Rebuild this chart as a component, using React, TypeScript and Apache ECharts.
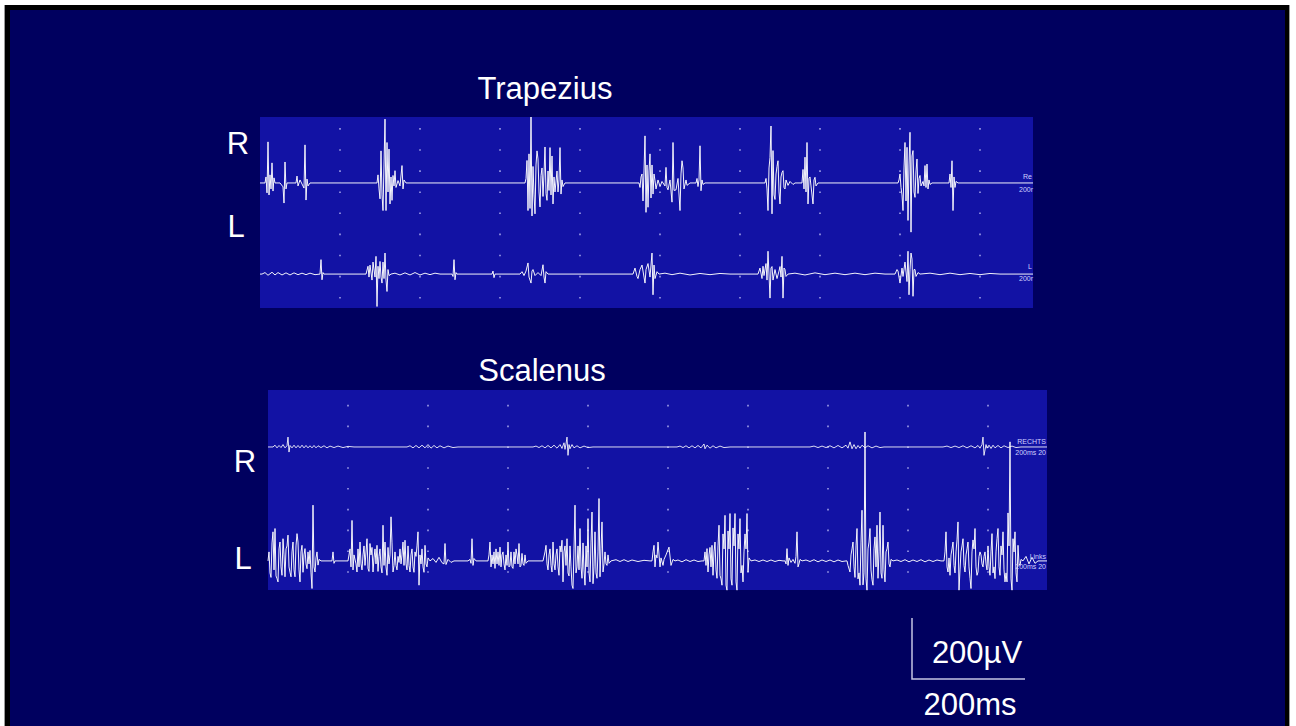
import React, { useEffect, useRef } from "react";
import * as echarts from "echarts";

// Time axis in samples (1 sample ≈ 1.77 ms), amplitude in µV (200 µV bar)
const TRAP_SAMPLES = 773;
const SCAL_SAMPLES = 779;

const TITLES = ["Trapezius", "Scalenus"];
const SIDES = ["R", "L"];
const SCALE_V = "200µV";
const SCALE_T = "200ms";

// Trapezius, right side
const TRAP_R: [number, number][] = [
  [5, 0], [6, 20], [7, -33], [8, 137], [9, -40], [10, 27], [11, -20], [12, 67], [13, -27], [14, 17], [15, 0],
  [20, 0], [23, -13], [24, -67], [25, 70], [26, -20], [27, 0], [36, 0], [37, 23], [38, -10], [40, 10], [44, -17],
  [45, 127], [46, -57], [47, 13], [48, -10], [50, 0],
  [117, 0], [118, 27], [119, -20], [120, -53], [121, 107], [122, -40], [123, -92], [124, 60], [125, 213], [126, -92],
  [127, 135], [128, -30], [129, 113], [130, -70], [131, 20], [132, -58], [133, 25], [134, -10], [135, 41], [136, -15],
  [138, 8], [140, -10], [142, 58], [143, -20], [144, 10], [146, 0],
  [265, 0], [266, 15], [267, 75], [268, -92], [269, 97], [270, -85], [271, 220], [272, -110], [273, 55], [274, -40],
  [275, -103], [276, 60], [277, 107], [278, 80], [279, -30], [280, -80], [281, 25], [282, 50], [283, -45], [284, 30],
  [285, 120], [286, -35], [287, -58], [288, 40], [289, -25], [290, 118], [291, -40], [292, 90], [293, -70], [294, 20],
  [295, -30], [297, 40], [298, -30], [299, 10], [300, 118], [301, -37], [302, 10], [303, -12], [305, 0],
  [379, 0], [380, -15], [381, 20], [382, 30], [383, -60], [384, 40], [385, 157], [386, -98], [387, 60], [388, -81],
  [389, 40], [390, 97], [391, -50], [392, 60], [393, -37], [394, 30], [395, 8], [396, -20], [398, 10], [400, -12],
  [402, 5], [405, -10], [406, 52], [407, -15], [408, -23], [410, 10], [412, -64], [413, 135], [414, -25], [416, -23],
  [418, 15], [420, -92], [421, 30], [422, 74], [423, 50], [424, -20], [426, 10], [427, -8], [430, 0],
  [436, 0], [437, 15], [438, -12], [439, 10], [440, 124], [441, -26], [442, 10], [443, -5], [445, 0],
  [505, 0], [506, 15], [507, -20], [508, -92], [509, 50], [510, 85], [511, 190], [512, -103], [513, 108], [514, -40],
  [515, -55], [516, 30], [517, 55], [518, 74], [519, -30], [520, -70], [521, 20], [522, 35], [523, 41], [524, -15],
  [525, -20], [526, 10], [528, -8], [530, 5], [533, -5], [535, 0],
  [542, 0], [543, 45], [544, -20], [545, 86], [546, -30], [547, 135], [548, -70], [549, 15], [550, 20], [551, -10],
  [553, -70], [554, 10], [555, 19], [556, -10], [558, 0],
  [638, 0], [639, 10], [640, 30], [641, -15], [642, -40], [643, -92], [644, 50], [645, 135], [646, -60], [647, 119],
  [648, -125], [649, 60], [650, 169], [651, -164], [652, 90], [653, 108], [654, -30], [655, -48], [656, 40], [657, 80],
  [658, -35], [659, 15], [660, 25], [661, -10], [663, 5], [664, -10], [665, 58], [666, -15], [667, 63], [668, -20],
  [669, 10], [670, -5], [672, 0],
  [689, 0], [690, 30], [691, -15], [692, 74], [693, -92], [694, 20], [695, -15], [696, 5], [698, 0],
];

// Trapezius, left side
const TRAP_L: [number, number][] = [
  [2, 0], [5, 5], [8, -4], [12, 6], [15, -3], [18, 5], [22, -3], [26, 4], [30, -3], [34, 4], [38, -2], [42, 3],
  [46, -2], [50, 3], [55, -2], [60, 0], [61, 48], [62, -19], [63, 5], [64, 0],
  [106, 0], [108, 26], [109, -10], [110, 30], [112, -20], [113, 40], [115, -10], [116, 59], [117, -108], [118, 26],
  [119, -15], [120, 42], [121, -10], [122, -30], [123, 40], [124, -15], [125, 70], [126, -20], [127, -58], [128, 15],
  [129, -5], [131, 0],
  [135, 3], [140, -3], [145, 4], [150, -3], [155, 5], [160, -3], [165, 3], [170, -2], [175, 3], [180, 0],
  [192, 0], [193, -8], [194, 48], [195, -19], [196, 5], [197, 0],
  [232, 0], [233, 10], [234, -12], [235, 0],
  [260, 0], [262, 8], [264, -5], [266, 10], [268, 37], [269, -10], [271, -30], [272, 10], [273, 15], [275, -5],
  [278, 5], [281, -5], [283, 31], [284, -10], [285, -30], [286, 8], [288, 0],
  [373, 0], [375, 20], [377, -8], [378, -15], [380, 15], [382, 30], [384, -10], [385, -30], [386, 15], [388, 35],
  [390, -10], [392, 70], [393, -69], [394, 30], [395, -15], [397, 8], [399, 0],
  [405, 3], [412, -2], [420, 3], [430, -3], [440, 2], [450, -2], [460, 2], [470, 0],
  [498, 0], [500, 20], [502, -15], [503, 26], [504, -5], [506, 35], [507, -20], [508, 76], [510, -80], [511, 20],
  [512, 25], [513, -20], [515, 15], [517, -15], [519, 10], [520, 25], [521, -10], [522, 59], [523, -80], [524, 20],
  [525, 15], [526, -8], [528, 0],
  [535, 3], [545, -3], [555, 4], [565, -2], [575, 3], [585, -2], [595, 3], [605, -2], [615, 3], [625, 0],
  [635, 0], [637, 15], [638, 10], [640, -30], [642, 20], [643, -8], [645, 40], [647, -25], [648, 76], [649, -69],
  [650, 15], [651, 70], [652, 50], [653, -74], [654, 15], [655, 15], [656, -8], [658, 5], [660, 0],
  [670, 3], [680, -2], [690, 3], [700, -2], [710, 2], [720, -2], [730, 2], [740, 0],
];

// Scalenus, right side
const SCAL_R: [number, number][] = [
  [5, 0], [7, 6], [9, -3], [11, 5], [13, -2], [15, 8], [17, -3], [19, 4], [20, 33], [21, -17], [22, 5], [24, -3],
  [26, 6], [28, -3], [30, 5], [32, -3], [34, 6], [36, -3], [38, 5], [40, -3], [42, 4], [44, -3], [46, 5], [48, -3],
  [50, 4], [53, -2], [56, 4], [59, -3], [62, 3], [66, -2], [70, 3], [75, -2], [80, 2], [86, 0],
  [139, 0], [142, 4], [145, -3], [148, 5], [151, -3], [154, 6], [157, -3], [160, 8], [163, -4], [166, 5],
  [169, -3], [172, 4], [176, -3], [180, 3], [185, -2], [190, 0],
  [265, 0], [268, 3], [271, -2], [274, 4], [277, -3], [280, 5], [283, -3], [286, 6], [289, -4], [292, 8],
  [294, -5], [296, 14], [297, -8], [298, 10], [299, 33], [300, -28], [301, 8], [302, -6], [304, 8], [306, -3],
  [309, 4], [312, -3], [316, 3], [320, -2], [325, 0],
  [409, 0], [412, 3], [415, -2], [418, 4], [421, -3], [424, 4], [427, -3], [430, 5], [433, -3], [436, 10],
  [437, -6], [439, 6], [442, -4], [445, 4], [448, -3], [452, 3], [456, -2], [462, 0],
  [542, 0], [546, 3], [550, -2], [554, 3], [558, -2], [562, 4], [566, -3], [570, 5], [574, -3], [578, 6],
  [580, -4], [582, 17], [584, -6], [586, 8], [588, -6], [590, 5], [592, -4], [594, 6], [597, -3], [600, 4],
  [604, -3], [608, 3], [612, -2], [616, 0],
  [675, 0], [679, 3], [683, -2], [687, 3], [691, -2], [695, 4], [699, -3], [703, 4], [707, -3], [710, 5],
  [712, -4], [714, 8], [715, 33], [716, -28], [717, -10], [718, 8], [719, -4], [721, 6], [723, -5], [725, 6],
  [727, -3], [730, 5], [733, -3], [736, 4], [740, -2], [744, 3], [748, -2], [753, 0],
];

// Scalenus, left side
const SCAL_L: [number, number][] = [
  [1, 30], [2, -40], [3, -55], [4, 60], [5, 97], [6, -30], [7, 108], [8, -50], [9, -59], [10, -70], [11, 40],
  [12, 63], [13, -20], [14, -48], [15, 74], [16, 20], [17, -53], [18, 40], [19, 50], [20, 86], [21, -20], [22, -38],
  [23, -53], [24, 30], [25, 63], [26, -30], [27, -53], [28, 50], [29, 91], [30, 63], [31, -30], [32, -70], [33, 30],
  [34, 52], [35, -38], [36, 20], [37, 41], [38, -10], [39, -26], [40, 30], [41, -10], [42, 35], [43, -40], [44, -92],
  [45, 186], [46, -20], [47, -37], [48, 10], [49, 30], [50, -14], [51, 5], [53, 0],
  [64, 0], [65, 30], [66, -8], [67, 0],
  [80, 0], [82, 40], [83, -20], [84, 135], [85, -30], [86, 20], [88, -10], [89, -37], [90, 40], [91, -20], [92, 63],
  [93, -10], [94, -30], [95, 20], [96, 50], [97, -15], [99, 74], [100, -25], [101, -35], [102, 58], [103, 20],
  [104, 45], [105, -37], [106, 10], [107, 40], [108, -10], [109, 52], [110, -35], [111, 15], [112, 40], [113, -20],
  [114, -40], [115, 119], [116, -15], [117, 63], [118, -20], [119, -48], [120, 45], [121, -10], [122, 20], [123, 147],
  [124, 60], [125, -37], [126, -15], [127, 30], [128, -15], [129, -30], [130, 15], [131, -5], [132, 40], [133, -10],
  [134, 20], [135, 63], [136, -15], [137, 69], [138, -10], [139, -30], [140, 50], [141, -15], [142, -37], [143, 20],
  [144, 40], [145, -20], [146, -38], [147, 30], [148, 15], [149, 50], [150, 97], [151, -81], [152, 20], [153, -10],
  [154, 40], [155, -20], [156, -38], [157, 52], [158, -10], [159, -20], [160, 10], [162, 0],
  [165, 8], [168, -5], [171, 12], [174, -6], [176, -10], [177, 58], [178, -12], [180, 5], [183, -5], [186, 0],
  [200, 0], [202, 5], [203, -8], [204, 74], [205, -15], [206, 8], [208, 0],
  [220, 0], [221, 20], [222, 63], [223, -20], [224, 20], [225, -10], [226, 30], [227, -25], [228, 40], [229, -10],
  [230, 30], [231, -15], [232, 46], [233, -20], [234, 20], [235, 30], [236, -10], [237, -30], [238, 20], [239, -15],
  [240, 63], [241, -20], [242, -15], [243, 30], [244, -20], [245, -25], [246, 30], [247, -10], [248, 40], [249, 20],
  [250, -10], [251, 58], [252, -20], [253, -15], [254, 25], [255, -10], [256, -15], [257, 20], [258, -8], [260, 0],
  [275, 0], [277, 30], [278, 52], [279, -10], [280, -30], [281, 20], [282, 40], [283, -15], [284, -37], [285, 63],
  [286, -10], [287, -30], [288, 20], [289, 40], [290, -20], [291, -48], [292, 50], [293, 30], [294, 69], [295, -70],
  [296, 30], [297, 50], [298, -15], [299, 74], [300, -40], [301, -50], [302, 50], [303, -20], [304, -81], [305, -92],
  [306, 40], [307, 186], [308, -40], [309, -20], [310, 50], [311, -30], [312, 108], [313, -20], [314, -58], [315, 60],
  [316, -30], [317, -81], [318, 50], [319, -20], [320, 141], [321, -40], [322, -70], [323, 60], [324, 163], [325, -76],
  [326, -20], [327, 97], [328, -40], [329, -58], [330, 30], [331, 208], [332, -53], [333, 40], [334, 130], [335, -37],
  [336, -10], [337, 30], [338, -10], [339, -15], [340, 20], [341, -8], [343, 0],
  [348, 4], [352, -2], [356, 4], [360, -2], [364, 3], [370, -2], [376, 2], [382, 0],
  [384, 0], [385, 30], [386, 52], [387, -20], [388, 20], [389, 10], [390, 63], [392, -20], [393, 10], [395, -15],
  [396, 5], [398, 20], [401, 46], [403, -15], [405, 5], [407, 0],
  [410, 3], [414, -3], [418, 4], [422, -2], [426, 3], [430, -2], [434, 0],
  [436, 0], [437, 30], [438, -15], [439, 41], [440, -37], [441, 20], [442, 45], [443, -20], [444, 52], [445, -48],
  [446, 30], [447, 63], [448, -30], [449, -58], [450, 50], [451, 119], [452, -48], [453, -60], [454, -81], [455, 90],
  [456, 40], [457, 152], [458, -81], [459, -98], [460, 100], [461, 40], [462, 158], [463, -60], [464, -81], [465, 110],
  [466, 50], [467, 158], [468, -70], [469, -98], [470, 90], [471, 40], [472, 141], [473, -40], [474, -15], [475, -70],
  [476, 30], [477, 90], [478, 40], [479, 158], [480, -37], [481, 10], [483, 0],
  [487, 3], [491, -2], [495, 3], [499, -2], [503, 3], [507, -2], [511, 2], [515, 0],
  [517, 0], [518, -10], [519, 41], [520, -15], [521, 10], [523, -5], [525, 5], [527, -8], [528, 15], [529, 97],
  [530, -20], [531, -10], [532, 5], [534, 0],
  [538, 3], [542, -2], [546, 4], [550, -3], [554, 3], [558, -2], [562, 3], [566, -3], [570, 3], [574, -2], [578, 0],
  [579, 0], [580, -15], [582, -37], [583, 20], [584, 40], [585, 63], [586, -20], [587, -55], [588, 50], [589, 108],
  [590, -60], [591, -40], [592, -81], [593, 60], [594, 169], [595, -80], [596, -40], [597, 430], [598, -60], [599, -98],
  [600, 40], [601, 63], [602, 108], [603, -30], [604, -63], [605, -81], [606, 40], [607, 80], [608, -20], [609, 119],
  [610, -58], [611, 30], [612, 163], [613, -40], [614, -58], [615, 119], [616, -30], [617, -70], [618, 30], [619, 40],
  [620, 63], [621, -10], [622, -20], [623, 5], [625, 0],
  [629, 3], [633, -2], [637, 4], [641, -3], [645, 3], [649, -2], [653, 4], [657, -3], [661, 3], [665, -2], [669, 3],
  [673, 0],
  [676, 0], [677, 30], [678, 97], [679, -20], [680, -37], [681, 10], [682, -48], [683, 20], [684, 40], [685, 63],
  [686, -15], [687, -40], [688, 30], [689, 70], [690, 130], [691, -98], [692, -30], [693, 30], [694, 50], [695, 74],
  [696, -15], [697, -37], [698, 20], [699, 40], [700, 63], [701, -20], [702, -58], [703, -92], [704, 30], [705, 70],
  [706, 40], [707, 108], [708, -20], [709, -48], [710, -37], [711, 15], [712, 30], [713, 20], [714, -10], [715, -20],
  [716, 15], [717, 30], [718, -10], [719, -30], [720, 50], [721, -20], [722, -48], [723, 30], [724, 91], [725, -40],
  [726, -20], [727, -59], [728, 30], [729, 74], [730, 108], [731, -20], [732, -48], [733, 50], [734, 20], [735, 97],
  [736, -30], [737, -70], [738, -40], [739, -70], [740, 160], [741, 50], [742, 397], [743, -60], [744, -98], [745, 74],
  [746, 30], [747, 97], [748, -40], [749, -70], [750, 52], [751, -10], [752, -15], [753, 5], [755, 0],
  [758, 15], [761, -10], [764, 12], [767, -8], [770, 0],
];

// Amplitude windows (µV) of each trace inside its panel
const Y_RANGES: [number, number][] = [
  [-417, 220],
  [-113, 523],
  [-477, 190],
  [-97, 570],
];

const NAVY = "#00005f";
const PANEL = "#1212a4";
const TRACE = "#ffffff";
const DOT = "rgba(205,205,255,0.75)";
const FONT = "'Liberation Sans', Arial, Helvetica, sans-serif";

function withEnds(points: [number, number][], total: number): [number, number][] {
  return [[0, 0], ...points, [total, 0]];
}

export default function App() {
  const ref = useRef<HTMLDivElement>(null);

  useEffect(() => {
    if (!ref.current) return;
    const chart = echarts.init(ref.current, undefined, { renderer: "svg" });

    const TRAP_RECT = { left: 260, top: 117, width: 773, height: 191 };
    const SCAL_RECT = { left: 268, top: 390, width: 779, height: 200 };

    const traces = [
      withEnds(TRAP_R, TRAP_SAMPLES),
      withEnds(TRAP_L, TRAP_SAMPLES),
      withEnds(SCAL_R, SCAL_SAMPLES),
      withEnds(SCAL_L, SCAL_SAMPLES),
    ];
    const totals = [TRAP_SAMPLES, TRAP_SAMPLES, SCAL_SAMPLES, SCAL_SAMPLES];

    const grids = [
      { ...TRAP_RECT, show: true, backgroundColor: PANEL, borderWidth: 0 },
      { ...TRAP_RECT, show: false },
      { ...SCAL_RECT, show: true, backgroundColor: PANEL, borderWidth: 0 },
      { ...SCAL_RECT, show: false },
    ];

    const xAxes: any[] = totals.map((t, i) => ({
      gridIndex: i,
      type: "value",
      min: 0,
      max: t,
      show: false,
    }));
    const dotAxis = (gridIndex: number, min: number, total: number, dash: number[], offset: number) => ({
      gridIndex,
      type: "value",
      min,
      max: min + total,
      interval: 80,
      axisLine: { show: false },
      axisTick: { show: false },
      axisLabel: { show: false },
      splitLine: {
        show: true,
        showMinLine: false,
        showMaxLine: false,
        lineStyle: { color: DOT, width: 1.6, type: dash, dashOffset: offset },
      },
    });
    xAxes.push(dotAxis(0, 9, TRAP_SAMPLES, [1.6, 19.5], 10.1));
    xAxes.push(dotAxis(2, 8, SCAL_SAMPLES, [1.6, 19.2], 5.8));

    const yAxes = Y_RANGES.map((r, i) => ({
      gridIndex: i,
      type: "value",
      min: r[0],
      max: r[1],
      show: false,
    }));

    const series = traces.map((d, i) => ({
      type: "line",
      xAxisIndex: i,
      yAxisIndex: i,
      data: d,
      symbol: "none",
      showSymbol: false,
      silent: true,
      clip: true,
      z: 5,
      lineStyle: { color: TRACE, width: 1, opacity: i === 2 ? 0.85 : 0.95 },
    }));

    const txt = (text: string, x: number, y: number, size: number, align = "center", color = "#ffffff") => ({
      type: "text",
      x,
      y,
      z: 20,
      silent: true,
      style: {
        text,
        fill: color,
        font: `${size}px ${FONT}`,
        textAlign: align,
        textVerticalAlign: "middle",
      },
    });

    const tiny = "#cfd0ff";

    chart.setOption({
      animation: false,
      backgroundColor: "#ffffff",
      grid: grids,
      xAxis: xAxes,
      yAxis: yAxes,
      series,
      graphic: [
        { type: "rect", z: -5, silent: true, shape: { x: 4, y: 5, width: 1285, height: 725 }, style: { fill: "#000000" } },
        { type: "line", z: -4, silent: true, shape: { x1: 4.5, y1: 5, x2: 4.5, y2: 726 }, style: { stroke: "#9a9a9a", lineWidth: 1 } },
        { type: "line", z: -4, silent: true, shape: { x1: 1289.5, y1: 5, x2: 1289.5, y2: 726 }, style: { stroke: "#9a9a9a", lineWidth: 1 } },
        { type: "rect", z: -3, silent: true, shape: { x: 10, y: 10, width: 1275, height: 716 }, style: { fill: NAVY } },
        txt(TITLES[0], 545, 88, 31),
        txt(TITLES[1], 542, 370, 31),
        txt(SIDES[0], 238, 143, 31),
        txt(SIDES[1], 236, 226, 31),
        txt(SIDES[0], 245, 461, 31),
        txt(SIDES[1], 243, 558, 31),
        txt(SCALE_V, 977, 652, 31),
        txt(SCALE_T, 970, 704, 31),
        txt("Re", 1032, 176, 7, "right", tiny),
        txt("200r", 1033, 189, 7, "right", tiny),
        txt("L", 1032, 266, 7, "right", tiny),
        txt("200r", 1033, 278, 7, "right", tiny),
        txt("RECHTS", 1046, 441, 7, "right", tiny),
        txt("200ms 20", 1046, 452, 7, "right", tiny),
        txt("Links", 1046, 556, 7, "right", tiny),
        txt("200ms 20", 1046, 566, 7, "right", tiny),
        {
          type: "polyline",
          z: 20,
          silent: true,
          shape: { points: [[912, 618], [912, 679], [1025, 679]] },
          style: { stroke: "#c4c4e4", lineWidth: 1.5, fill: null },
        },
      ],
    });

    return () => chart.dispose();
  }, []);

  return (
    <div
      ref={ref}
      style={{ position: "fixed", left: 0, top: 0, width: 1296, height: 726 }}
    />
  );
}
